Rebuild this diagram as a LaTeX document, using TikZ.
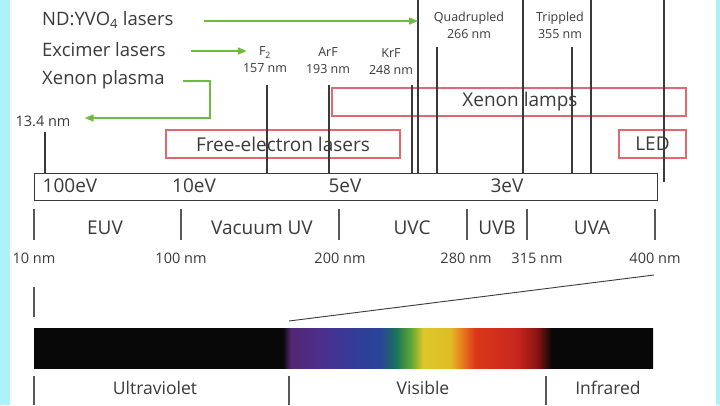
\documentclass[tikz,border=0pt]{standalone}
\usepackage{fontspec}
\setmainfont{Open Sans}
\usetikzlibrary{arrows.meta}

\definecolor{lasergreen}{RGB}{110,188,62}
\definecolor{boxred}{RGB}{226,104,112}
\definecolor{inkgray}{RGB}{58,58,58}
\definecolor{edgecyan}{RGB}{172,242,250}

% colour bar: the middle 25bp..75bp is stretched over the bar
\pgfdeclarehorizontalshading{spectrum}{100bp}{%
  rgb(0bp)=(0.03,0.03,0.03); rgb(45.1bp)=(0.03,0.03,0.03);
  rgb(45.7bp)=(0.33,0.15,0.45); rgb(48.1bp)=(0.30,0.18,0.55);
  rgb(51bp)=(0.20,0.24,0.60); rgb(53bp)=(0.16,0.27,0.60);
  rgb(54.2bp)=(0.10,0.45,0.35); rgb(55.5bp)=(0.40,0.66,0.20);
  rgb(56.4bp)=(0.86,0.78,0.16); rgb(58.6bp)=(0.88,0.74,0.15);
  rgb(59.5bp)=(0.91,0.50,0.12); rgb(60.6bp)=(0.86,0.22,0.10);
  rgb(64bp)=(0.78,0.15,0.12); rgb(65.6bp)=(0.55,0.08,0.08);
  rgb(66.8bp)=(0.03,0.03,0.03); rgb(100bp)=(0.03,0.03,0.03)}

\begin{document}
\begin{tikzpicture}[x=1pt, y=-1pt,
  every node/.style={text=inkgray, inner sep=0pt},
  bigtxt/.style={font=\fontsize{18.5}{20}\selectfont},
  midtxt/.style={font=\fontsize{19}{21}\selectfont},
  nmtxt/.style={font=\fontsize{14.5}{16}\selectfont},
  smalltxt/.style={font=\fontsize{12.5}{17}\selectfont, align=center},
  redbox/.style={draw=boxred, line width=1.3pt, midtxt},
  gline/.style={draw=lasergreen, line width=1.6pt},
  garr/.style={gline, -{Triangle[length=9pt,width=7pt]}},
  vline/.style={draw=inkgray, line width=1.1pt},
  tick/.style={draw=inkgray!85, line width=1.1pt}]
\useasboundingbox (0,0) rectangle (720,405);
\fill[white] (0,0) rectangle (720,405);
\fill[edgecyan] (0,0) rectangle (10,405);
\fill[edgecyan] (716,0) rectangle (720,405);
% --- light sources, left
\node[bigtxt, anchor=west] (ndyvo) at (42,20) {ND:YVO\textsubscript{4} lasers};
\node[bigtxt, anchor=west] (excimer) at (42,50) {Excimer lasers};
\node[bigtxt, anchor=west] (xeplasma) at (42,80) {Xenon plasma};
\node[nmtxt] (xe134) at (43,121) {13.4 nm};
% --- laser lines
\node[smalltxt] (f2) at (265,60) {F\textsubscript{2}\\157 nm};
\node[smalltxt] (arf) at (328,61) {ArF\\193 nm};
\node[smalltxt] (krf) at (391,62) {KrF\\248 nm};
\node[smalltxt] (quad) at (469,25) {Quadrupled\\266 nm};
\node[smalltxt] (trip) at (560,25) {Trippled\\355 nm};
% --- sources as boxes
\node[redbox, minimum width=354pt, minimum height=28pt] (xelamps) at (509,102) {};
\node[midtxt] (xelampslbl) at (520,102) {Xenon lamps};
\node[redbox, minimum width=234pt, minimum height=28pt] (fel) at (283,144) {Free-electron lasers};
\node[redbox, minimum width=67pt, minimum height=28pt] (led) at (652.5,144) {LED};
% --- photon energy
\node[draw=inkgray, line width=1.1pt, minimum width=623pt, minimum height=27pt, anchor=north west] (ev) at (34,173) {};
\node[midtxt] (ev100) at (70,186) {100eV};
\node[midtxt] (ev10) at (194,186) {10eV};
\node[midtxt] (ev5) at (345,186) {5eV};
\node[midtxt] (ev3) at (507,186) {3eV};
% --- line tops
\coordinate (xetop) at (45,132);
\coordinate (f2top) at (267,85);
\coordinate (arftop) at (329,85);
\coordinate (krftop) at (412,85);
\coordinate (l418) at (418,0);
\coordinate (quadtop) at (437,47);
\coordinate (l523) at (523,0);
\coordinate (triptop) at (572,47);
\coordinate (l591) at (591,0);
\coordinate (l664) at (664,0);
\coordinate (ledend) at (664,182);
\draw[vline] (xetop) -- (xetop |- ev.north);
\draw[vline] (f2top) -- (f2top |- ev.north);
\draw[vline] (arftop) -- (arftop |- ev.north);
\draw[vline] (krftop) -- (krftop |- ev.north);
\draw[vline] (l418) -- (l418 |- ev.north);
\draw[vline] (quadtop) -- (quadtop |- ev.north);
\draw[vline] (l523) -- (l523 |- ev.north);
\draw[vline] (triptop) -- (triptop |- ev.north);
\draw[vline] (l591) -- (l591 |- ev.north);
\draw[vline] (l664) -- (ledend);
% --- green arrows
\draw[garr] ([xshift=30pt,yshift=-1pt]ndyvo.east) -- ([yshift=-1pt]ndyvo.east -| l418);
\draw[garr] ([xshift=25pt,yshift=-1pt]excimer.east) -- ([xshift=4pt,yshift=-1pt]excimer.east -| f2.west);
\coordinate (xebend) at (210,118);
\draw[garr] ([shift={(18,1)}]xeplasma.east) -| (xebend) -- ([xshift=14pt]xebend -| xe134.east);
% --- bands
\foreach \x in {34,181,339,467,527,655}
  \draw[tick] (\x,209) -- (\x,240);
\node[midtxt] (euv) at (105,228) {EUV};
\node[midtxt] (vuv) at (262,228) {Vacuum UV};
\node[midtxt] (uvc) at (412,228) {UVC};
\node[midtxt] (uvb) at (497,228) {UVB};
\node[midtxt] (uva) at (592,228) {UVA};
\node[nmtxt] (nm10) at (34,258) {10 nm};
\node[nmtxt] (nm100) at (181,258) {100 nm};
\node[nmtxt] (nm200) at (340,258) {200 nm};
\node[nmtxt] (nm280) at (466,258) {280 nm};
\node[nmtxt] (nm315) at (537,258) {315 nm};
\node[nmtxt] (nm400) at (655,258) {400 nm};
% --- full spectrum
\node[shade, shading=spectrum, minimum width=619pt, minimum height=40pt, anchor=north west] (bar) at (34,328) {};
\coordinate (visleft) at (289,321);
\coordinate (visright) at (654,275);
\draw[tick] (34,287) -- (34,317);
\draw[vline, line width=0.9pt] (visleft) -- (visright);
\foreach \x in {34,289,546}
  \draw[tick] (\x,376) -- (\x,405);
\node[midtxt, font=\fontsize{17.5}{19}\selectfont] (uvlbl) at (155,388) {Ultraviolet};
\node[midtxt, font=\fontsize{17.5}{19}\selectfont] (vislbl) at (423,388) {Visible};
\node[midtxt, font=\fontsize{17.5}{19}\selectfont] (irlbl) at (608,388) {Infrared};
\end{tikzpicture}
\end{document}
